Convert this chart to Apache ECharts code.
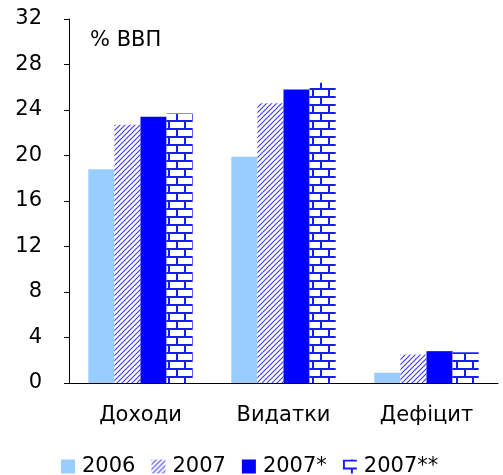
<!DOCTYPE html>
<html>
<head>
<meta charset="utf-8">
<script src="https://cdn.jsdelivr.net/npm/echarts@6/dist/echarts.min.js"></script>
<style>
  html, body { margin: 0; padding: 0; background: #fff; }
  #chart { width: 503px; height: 475px; }
</style>
</head>
<body>
<div id="chart"></div>
<script>
// --- data ---
const categories = ['Доходи', 'Видатки', 'Дефіцит'];
const seriesNames = ['2006', '2007', '2007*', '2007**'];
const values2006 = [18.8, 19.9, 0.9];
const values2007 = [22.7, 24.6, 2.5];
const values2007s = [23.4, 25.8, 2.8];
const values2007ss = [23.7, 26.4, 2.7];
const yTicks = { min: 0, max: 32, interval: 4 };

// diagonal hatch "/" blue on white
function hatchPattern() {
  const n = 5;
  const c = document.createElement('canvas');
  c.width = n; c.height = n;
  const ctx = c.getContext('2d');
  ctx.fillStyle = '#fff';
  ctx.fillRect(0, 0, n, n);
  ctx.strokeStyle = '#3a3aff';
  ctx.lineWidth = 1.1;
  ctx.beginPath();
  ctx.moveTo(-1, n + 1); ctx.lineTo(n + 1, -1);
  ctx.moveTo(-1, 1); ctx.lineTo(1, -1);
  ctx.moveTo(n - 1, n + 1); ctx.lineTo(n + 1, n - 1);
  ctx.stroke();
  return c;
}

// brick pattern blue lines on white
function brickPattern() {
  const c = document.createElement('canvas');
  c.width = 16; c.height = 16;
  const ctx = c.getContext('2d');
  ctx.fillStyle = '#fff';
  ctx.fillRect(0, 0, 16, 16);
  ctx.fillStyle = '#1a1aff';
  ctx.fillRect(0, 0, 16, 2);
  ctx.fillRect(0, 8, 16, 2);
  ctx.fillRect(0, 0, 2, 8);
  ctx.fillRect(8, 8, 2, 8);
  return c;
}

const font = 'DejaVu Sans, Verdana, sans-serif';
const chart = echarts.init(document.getElementById('chart'));

function bar(name, data, color) {
  return {
    name: name,
    type: 'bar',
    data: data,
    barGap: '0%',
    barCategoryGap: '27%',
    itemStyle: { color: color },
    emphasis: { disabled: true }
  };
}

chart.setOption({
  animation: false,
  backgroundColor: '#fff',
  textStyle: { fontFamily: font },
  grid: { left: 69, top: 19, right: 5, bottom: 92 },
  graphic: [{
    type: 'text',
    left: 90,
    top: 30,
    style: { text: '% ВВП', font: '21px ' + font, fill: '#000' }
  }],
  legend: {
    top: 456,
    left: 61,
    padding: 0,
    itemWidth: 14,
    itemHeight: 14,
    itemGap: 16,
    icon: 'rect',
    textStyle: { fontSize: 21, color: '#000', fontFamily: font, padding: [0, 0, 0, 2] },
    data: seriesNames
  },
  xAxis: {
    type: 'category',
    data: categories,
    axisLine: { lineStyle: { color: '#000', width: 1 } },
    axisTick: { show: false },
    axisLabel: { color: '#000', fontSize: 21, margin: 22, fontFamily: font }
  },
  yAxis: {
    type: 'value',
    min: yTicks.min,
    max: yTicks.max,
    interval: yTicks.interval,
    axisLine: { show: true, lineStyle: { color: '#000', width: 1 } },
    axisTick: { show: true, length: 5, lineStyle: { color: '#000' } },
    axisLabel: { color: '#000', fontSize: 21, margin: 27, fontFamily: font, padding: [3, 0, 0, 0] },
    splitLine: { show: false }
  },
  series: [
    bar(seriesNames[0], values2006, '#99ccff'),
    bar(seriesNames[1], values2007, { image: hatchPattern(), repeat: 'repeat' }),
    bar(seriesNames[2], values2007s, '#0000ff'),
    bar(seriesNames[3], values2007ss, { image: brickPattern(), repeat: 'repeat' })
  ]
});
</script>
</body>
</html>
